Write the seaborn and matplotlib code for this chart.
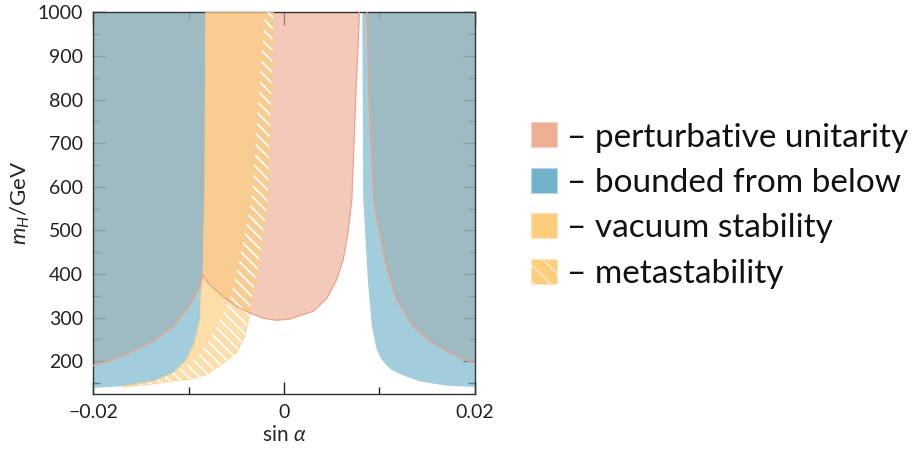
import numpy as np
import matplotlib
matplotlib.use('Agg')
import matplotlib.pyplot as plt
from matplotlib.patches import Patch
from matplotlib.ticker import MultipleLocator, FixedLocator
import seaborn as sns

# --- data: boundaries of the allowed regions (sin a, m_H in GeV) ---
# perturbative unitarity, left + central lobe (lower edge)
pu_left_x = [-0.0200, -0.0179, -0.0158, -0.0137, -0.0116, -0.0099, -0.0088, -0.0085,
             -0.0078, -0.0064, -0.0050, -0.0036, -0.0022, -0.0008, 0.0006, 0.0020,
             0.0031, 0.0045, 0.0055, 0.0062, 0.0067, 0.0071, 0.0075, 0.0079]
pu_left_m = [190, 204, 223, 246, 280, 326, 372, 398,
             376, 349, 326, 311, 299, 294, 297, 307,
             315, 345, 387, 433, 494, 570, 800, 1000]
# perturbative unitarity, right lobe (lower edge)
pu_right_x = [0.0087, 0.0089, 0.0094, 0.0100, 0.0107, 0.0118, 0.0135, 0.0153, 0.0170, 0.0188, 0.0200]
pu_right_m = [1000, 800, 570, 494, 418, 341, 280, 246, 223, 204, 195]

# bounded from below, left part (right edge, top to bottom)
bfb_left_x = [-0.0082, -0.0083, -0.0085, -0.0087, -0.0088, -0.0094, -0.0102, -0.0116, -0.0137, -0.0169, -0.0200]
bfb_left_m = [1000, 600, 399, 357, 296, 242, 204, 173, 154, 143, 139]
# bounded from below, right part (left edge, top to bottom)
bfb_right_x = [0.0082, 0.0083, 0.0085, 0.0088, 0.0092, 0.0097, 0.0101, 0.0106, 0.0111, 0.0122, 0.0142, 0.0170, 0.0200]
bfb_right_m = [1000, 570, 494, 380, 280, 227, 208, 194, 183, 170, 154, 144, 141]

# vacuum stability, right edge (top to bottom)
vs_x = [-0.0020, -0.0034, -0.0041, -0.0048, -0.0057, -0.0064, -0.0070, -0.0081,
        -0.0091, -0.0098, -0.0110, -0.0128, -0.0150, -0.0169]
vs_m = [1000, 570, 494, 417, 341, 311, 280, 242, 211, 196, 181, 160, 148, 141]
# metastability, right edge (top to bottom)
ms_x = [-0.0011, -0.0017, -0.0022, -0.0027, -0.0034, -0.0037, -0.0041, -0.0050,
        -0.0064, -0.0081, -0.0098, -0.0113, -0.0141, -0.0169]
ms_m = [1000, 570, 494, 418, 341, 296, 257, 219, 195, 170, 159, 156, 147, 141]

labels = ['– perturbative unitarity', '– bounded from below', '– vacuum stability', '– metastability']
xticks = [-0.02, 0, 0.02]
xticklabels = ['−0.02', '0', '0.02']
yticks = [200, 300, 400, 500, 600, 700, 800, 900, 1000]

c_pink = '#eeae94'
c_blue = '#71b3ca'
c_yellow = '#fccd7a'
c_pink_edge = '#f0a088'

sns.set_theme(style='ticks')
plt.rcParams['font.family'] = ['Lato', 'DejaVu Sans']
plt.rcParams['mathtext.fontset'] = 'custom'
plt.rcParams['mathtext.rm'] = 'Lato'
plt.rcParams['mathtext.it'] = 'Lato:italic'
plt.rcParams['hatch.linewidth'] = 1.3
plt.rcParams['text.color'] = '#222222'

fig = plt.figure(figsize=(9.2, 4.5), dpi=100)
ax = fig.add_axes([93/920, 1 - 394/450, 382/920, (394 - 12.4)/450])

# perturbative unitarity
ax.fill(pu_left_x + [-0.02], pu_left_m + [1000], color=c_pink, alpha=0.65, lw=0, zorder=1)
ax.fill(pu_right_x + [0.02], pu_right_m + [1000], color=c_pink, alpha=0.65, lw=0, zorder=1)

# bounded from below
ax.fill([-0.02] + bfb_left_x, [1000] + bfb_left_m, color=c_blue, alpha=0.65, lw=0, zorder=2)
ax.fill(bfb_right_x + [0.02], bfb_right_m + [1000], color=c_blue, alpha=0.65, lw=0, zorder=2)

# vacuum stability + metastability band
yx = bfb_left_x[:-1] + ms_x[::-1]
ym = bfb_left_m[:-1] + ms_m[::-1]
ax.fill(yx, ym, facecolor=c_yellow, edgecolor=c_yellow, alpha=0.65, lw=0.8, zorder=3)
ax.fill(vs_x + ms_x[::-1], vs_m + ms_m[::-1], facecolor='none', edgecolor='white',
        hatch='\\\\\\', lw=0, zorder=4)

# unitarity boundaries on top
sns.lineplot(x=pu_left_x, y=pu_left_m, sort=False, estimator=None, color=c_pink_edge, lw=0.9, ax=ax, zorder=5)
sns.lineplot(x=pu_right_x, y=pu_right_m, sort=False, estimator=None, color=c_pink_edge, lw=0.9, ax=ax, zorder=5)

ax.set_xlim(-0.02, 0.02)
ax.set_ylim(125, 1000)
ax.xaxis.set_major_locator(FixedLocator(xticks))
ax.set_xticklabels(xticklabels)
ax.xaxis.set_minor_locator(MultipleLocator(0.01))
ax.yaxis.set_major_locator(FixedLocator(yticks))
ax.yaxis.set_minor_locator(MultipleLocator(50))
ax.tick_params(which='both', direction='in', top=True, right=True, colors='#222222',
               labelsize=14, width=1.0, pad=7)
ax.tick_params(which='major', length=9)
ax.tick_params(which='minor', length=5)
for s in ax.spines.values():
    s.set_color('#333333')
    s.set_linewidth(1.0)
ax.set_xlabel(r'sin $\alpha$', fontsize=15, labelpad=3)
ax.set_ylabel(r'$m_H$/GeV', fontsize=16, labelpad=4)

handles = [Patch(facecolor=c_pink, edgecolor='#f6d2c4', lw=0.8),
           Patch(facecolor=c_blue, edgecolor='#b3d8e5', lw=0.8),
           Patch(facecolor=c_yellow, edgecolor='#fde3b5', lw=0.8),
           Patch(facecolor=c_yellow, edgecolor='#fde6c2', hatch='\\\\', lw=0.8)]
fig.legend(handles, labels, loc='center left', bbox_to_anchor=(0.563, 0.543),
           frameon=False, handlelength=0.78, handleheight=0.78,
           handletextpad=0.3, labelspacing=0.46, borderaxespad=0, labelcolor='#111111',
           prop={'family': ['Lato', 'DejaVu Sans'], 'weight': 'normal', 'size': 24})

plt.savefig('out.png', dpi=100)
